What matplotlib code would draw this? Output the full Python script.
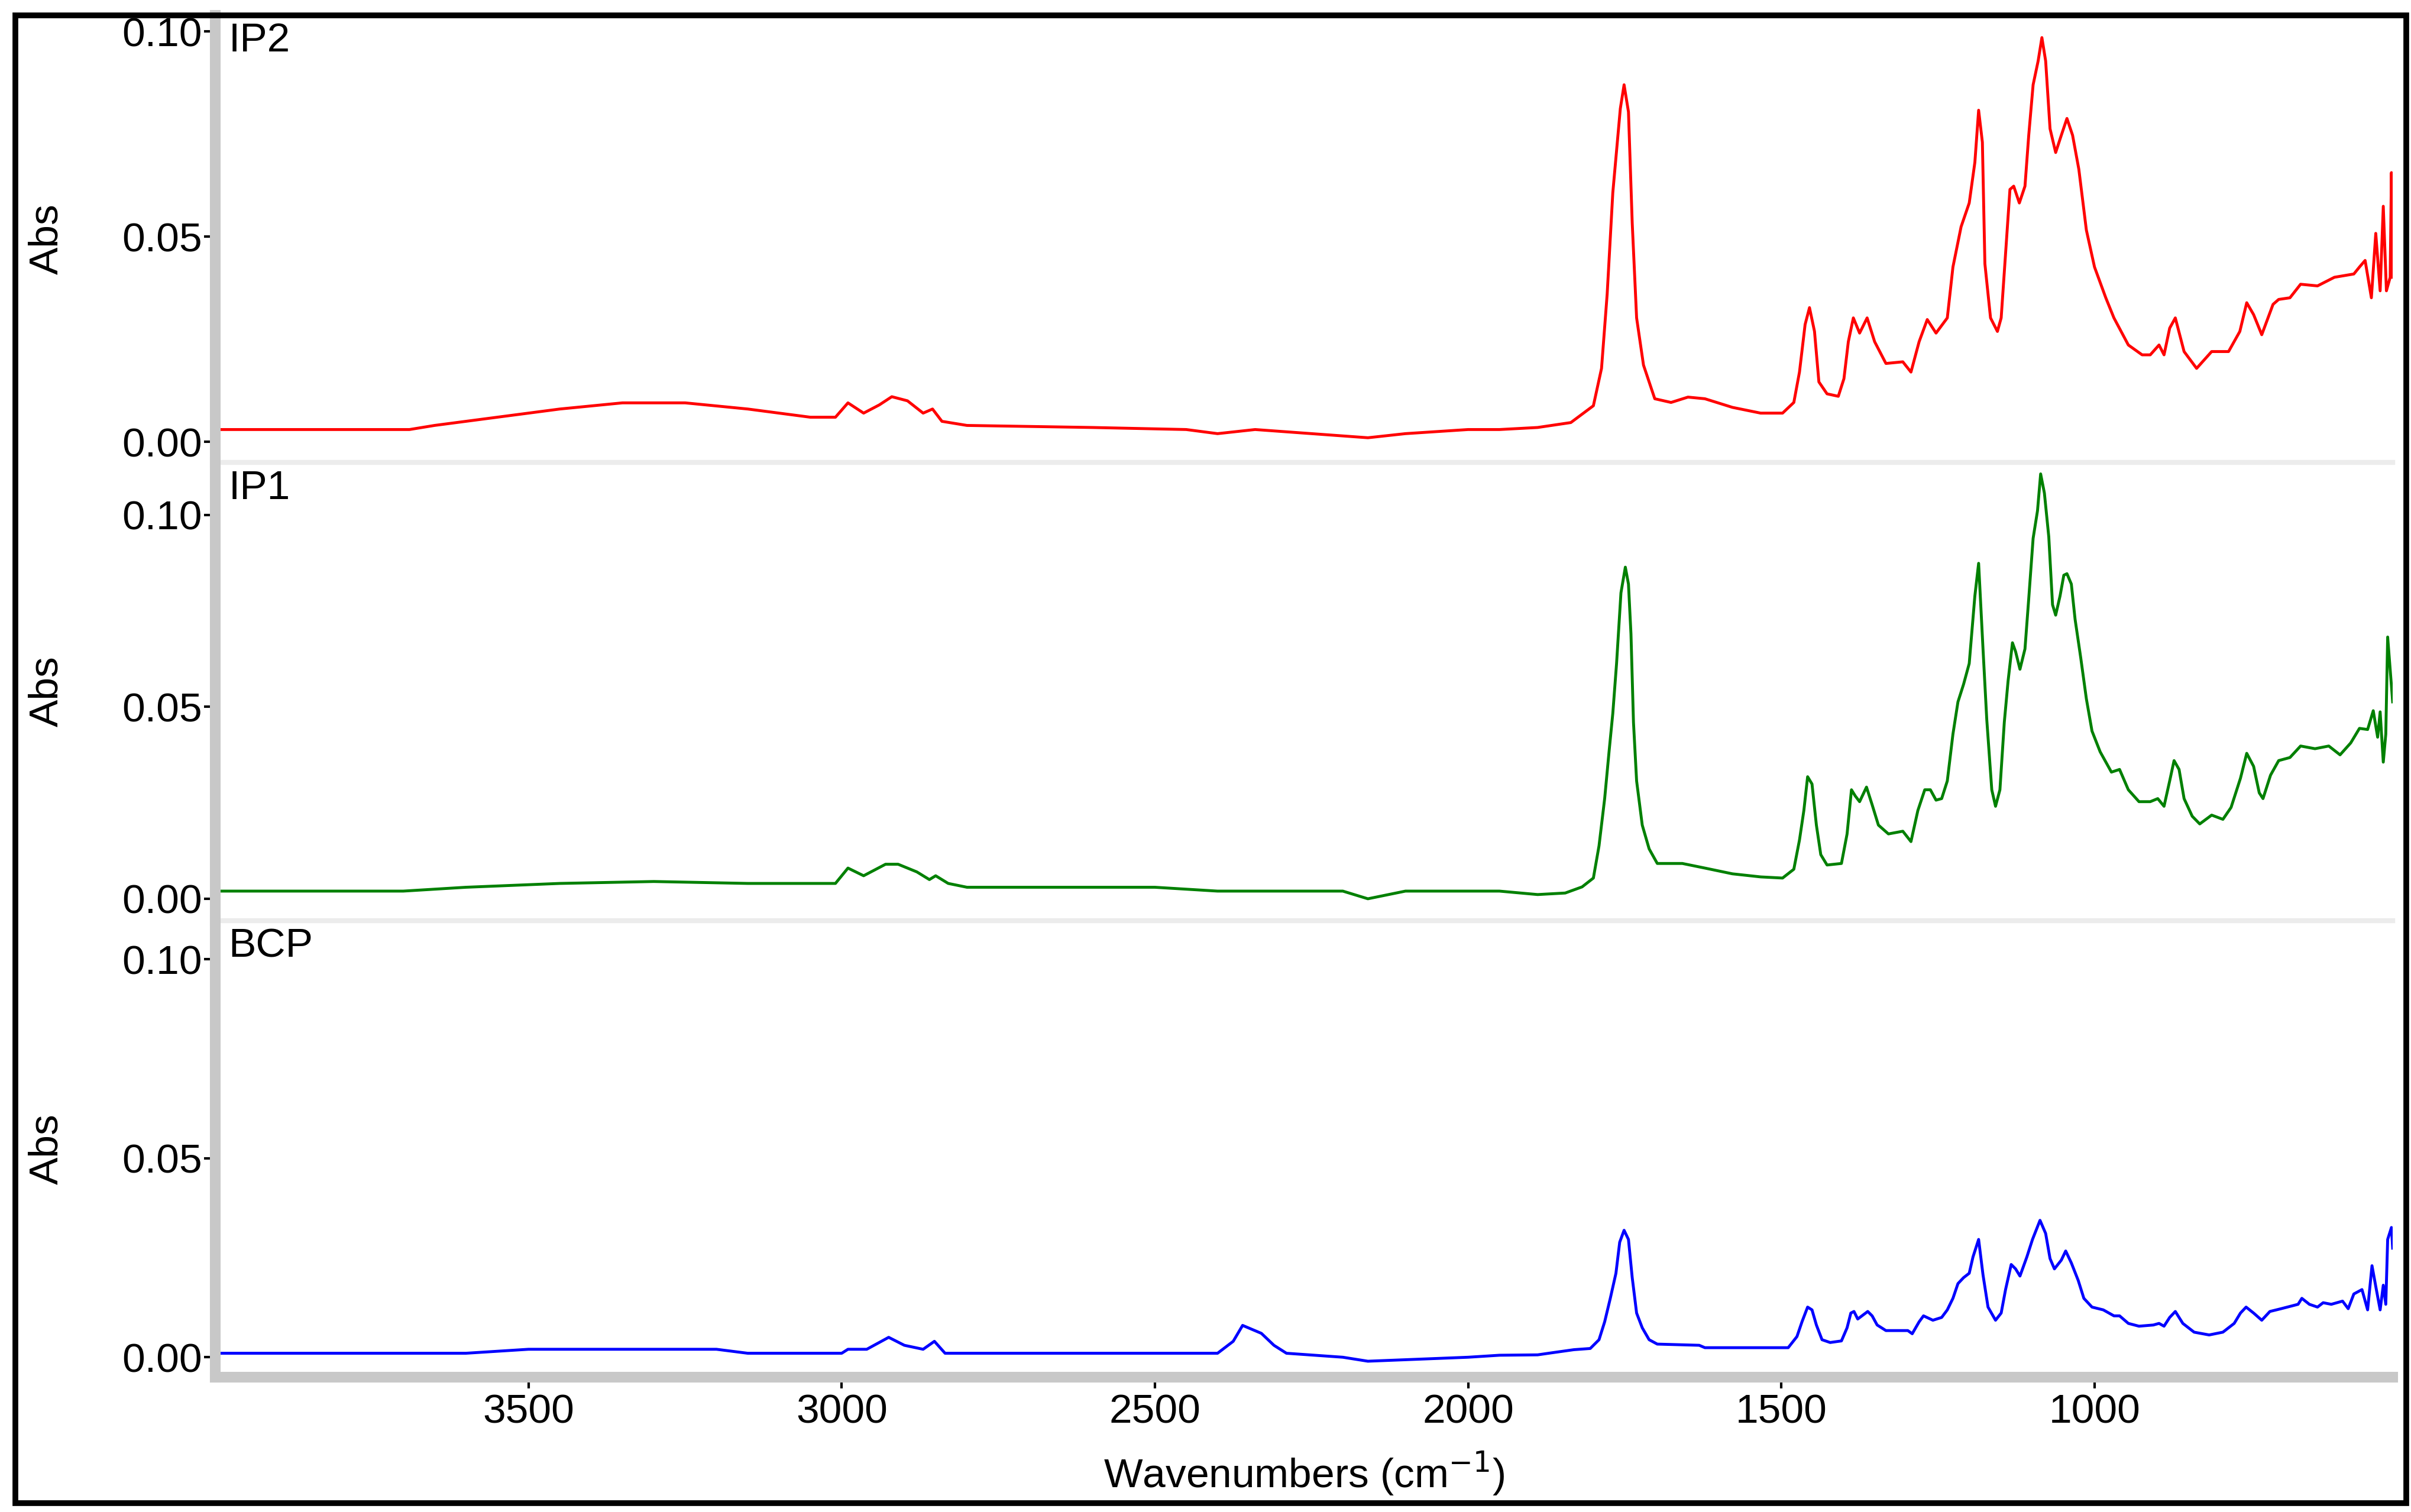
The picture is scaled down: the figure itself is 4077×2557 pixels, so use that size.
import matplotlib
matplotlib.use("Agg")
import matplotlib.pyplot as plt
from matplotlib.patches import Rectangle

plt.rcParams['font.family'] = ['Liberation Sans', 'DejaVu Sans']

# --- Spectra (wavenumber, absorbance) ---
ip2_wn = [4000, 3690, 3650, 3550, 3450, 3350, 3250, 3150, 3050, 3010, 2990, 2965, 2940, 2920, 2895, 2870, 2855, 2840,
          2800, 2600, 2450, 2400, 2340, 2250, 2160, 2100, 2000, 1950,
          1889, 1836, 1800, 1787, 1778, 1769, 1757, 1751, 1744, 1738, 1731, 1720, 1702, 1676, 1649, 1622, 1578, 1533,
          1498, 1480, 1471, 1462, 1455, 1447, 1440, 1427, 1409, 1400, 1393, 1385, 1375, 1363, 1351, 1333, 1306, 1293,
          1280, 1267, 1253, 1235, 1226, 1213, 1200, 1191, 1185, 1179, 1175, 1166, 1155, 1149, 1142, 1135, 1129, 1120,
          1111, 1105, 1098, 1090, 1084, 1078, 1071, 1062, 1053, 1044, 1035, 1025, 1013, 1000, 982, 969, 946, 924, 911,
          897, 889, 880, 871, 857, 837, 813, 786, 768, 757, 746, 733, 715, 706, 688, 671, 644, 617, 586, 577, 568, 558,
          551, 544, 539, 534, 528, 526, 524]
ip2_abs = [0.003, 0.003, 0.004, 0.006, 0.008, 0.0095, 0.0095, 0.008, 0.006, 0.006, 0.0095, 0.007, 0.009, 0.011, 0.010, 0.007, 0.008, 0.005,
           0.004, 0.0035, 0.003, 0.002, 0.003, 0.002, 0.001, 0.002, 0.003, 0.003,
           0.0035, 0.0047, 0.0088, 0.0179, 0.036, 0.0607, 0.0812, 0.087, 0.0804, 0.0533, 0.0302, 0.0187, 0.0105, 0.0096, 0.0109, 0.0105, 0.0084, 0.007,
           0.007, 0.0096, 0.017, 0.0286, 0.0327, 0.0269, 0.0146, 0.0117, 0.0111, 0.0154, 0.0244, 0.0302, 0.0265, 0.0302, 0.0244, 0.0191, 0.0195, 0.017,
           0.0244, 0.0298, 0.0265, 0.0302, 0.0426, 0.0524, 0.0582, 0.0681, 0.0808, 0.073, 0.0434, 0.0302, 0.0269, 0.0302, 0.0458, 0.0615, 0.0623, 0.0582,
           0.0623, 0.0747, 0.087, 0.0928, 0.0985, 0.0928, 0.0763, 0.0705, 0.0747, 0.0788, 0.0747, 0.0664, 0.0516, 0.0426, 0.0351, 0.0302, 0.0236, 0.0212, 0.0212,
           0.0236, 0.0212, 0.0277, 0.0302, 0.022, 0.0179, 0.022, 0.022, 0.0269, 0.0339, 0.031, 0.0261, 0.0335, 0.0347, 0.0351, 0.0384, 0.038, 0.0401, 0.0409, 0.0426, 0.0442, 0.0351,
           0.0508, 0.0368, 0.0574, 0.0368, 0.0401, 0.0656, 0.0401]

ip1_wn = [4000, 3700, 3600, 3450, 3300, 3150, 3010, 2990, 2965, 2930, 2910, 2880, 2860, 2850, 2830, 2800, 2500, 2400,
          2300, 2200, 2160, 2100, 2000, 1950,
          1889, 1845, 1818, 1800, 1791, 1782, 1775, 1769, 1763, 1756, 1749, 1744, 1740, 1736, 1731, 1722, 1711, 1698,
          1658, 1622, 1578, 1533, 1498, 1480, 1471, 1464, 1458, 1451, 1444, 1437, 1427, 1404, 1395, 1388, 1382, 1375,
          1364, 1355, 1345, 1329, 1306, 1293, 1282, 1271, 1262, 1253, 1244, 1235, 1226, 1218, 1209, 1200, 1191, 1185,
          1178, 1172, 1164, 1158, 1151, 1144, 1138, 1131, 1126, 1119, 1111, 1105, 1098, 1091, 1086, 1080, 1073, 1067,
          1062, 1055, 1049, 1044, 1037, 1031, 1022, 1013, 1004, 991, 973, 960, 946, 929, 911, 899, 889, 880, 873, 865,
          857, 844, 832, 813, 795, 782, 767, 757, 746, 737, 731, 719, 706, 688, 671, 648, 626, 608, 591, 577, 564, 555,
          548, 544, 539, 535, 532, 524]
ip1_abs = [0.002, 0.002, 0.003, 0.004, 0.0045, 0.004, 0.004, 0.008, 0.006, 0.009, 0.009, 0.007, 0.005, 0.006, 0.004, 0.003, 0.003, 0.002,
           0.002, 0.002, 0.000, 0.002, 0.002, 0.002,
           0.0011, 0.0015, 0.0031, 0.0054, 0.0138, 0.0261, 0.0383, 0.0483, 0.0613, 0.0797, 0.0864, 0.082, 0.069, 0.046, 0.0307, 0.0192, 0.013, 0.0092,
           0.0092, 0.008, 0.0065, 0.0057, 0.0054, 0.0077, 0.0153, 0.023, 0.0318, 0.0299, 0.0192, 0.0115, 0.0088, 0.0092, 0.0169, 0.0284, 0.0268, 0.0253,
           0.0291, 0.0245, 0.0192, 0.0169, 0.0176, 0.0149, 0.023, 0.0284, 0.0284, 0.0257, 0.0261, 0.0307, 0.0429, 0.0513, 0.0559, 0.0613, 0.0789, 0.0874,
           0.0651, 0.0467, 0.0284, 0.0241, 0.0284, 0.046, 0.0567, 0.0667, 0.0644, 0.0598, 0.0651, 0.0782, 0.0939, 0.1011, 0.1107, 0.1057, 0.0943, 0.0766,
           0.0739, 0.0789, 0.0843, 0.0847, 0.082, 0.0728, 0.0628, 0.0521, 0.0437, 0.0383, 0.033, 0.0337, 0.0284, 0.0253, 0.0253, 0.0261, 0.0241, 0.0307, 0.036, 0.0337,
           0.0261, 0.0215, 0.0195, 0.0218, 0.0207, 0.0238, 0.0314, 0.0379, 0.0345, 0.0276, 0.0261, 0.0322, 0.036, 0.0368, 0.0398, 0.0391, 0.0398, 0.0375, 0.0406, 0.0444, 0.0441, 0.049,
           0.0421, 0.0487, 0.0356, 0.0429, 0.0682, 0.0513]

bcp_wn = [4000, 3600, 3500, 3200, 3150, 3000, 2990, 2960, 2925, 2900, 2870, 2852, 2835, 2400, 2375, 2360, 2345, 2330,
          2310, 2290, 2200, 2160, 2000, 1950,
          1889, 1867, 1831, 1805, 1791, 1782, 1773, 1764, 1758, 1751, 1744, 1738, 1731, 1722, 1711, 1698, 1631, 1622,
          1489, 1475, 1467, 1458, 1451, 1444, 1435, 1422, 1404, 1395, 1389, 1384, 1378, 1362, 1355, 1347, 1333, 1298,
          1291, 1280, 1273, 1258, 1244, 1235, 1226, 1218, 1209, 1200, 1194, 1185, 1178, 1170, 1158, 1149, 1142, 1133,
          1126, 1119, 1108, 1099, 1087, 1078, 1071, 1064, 1053, 1046, 1037, 1026, 1017, 1004, 986, 969, 960, 946, 929,
          906, 897, 889, 880, 871, 859, 841, 817, 795, 777, 767, 758, 746, 733, 720, 702, 675, 669, 657, 644, 635, 622,
          604, 595, 586, 573, 564, 557, 551, 544, 539, 535, 532, 526, 524]
bcp_abs = [0.001, 0.001, 0.002, 0.002, 0.001, 0.001, 0.002, 0.002, 0.005, 0.003, 0.002, 0.004, 0.001, 0.001, 0.004, 0.008, 0.007, 0.006,
           0.003, 0.001, 0.000, -0.001, 0.000, 0.0005,
           0.0006, 0.0011, 0.0019, 0.0022, 0.0044, 0.0089, 0.0148, 0.0211, 0.0289, 0.0319, 0.0296, 0.02, 0.0111, 0.0074, 0.0044, 0.0033, 0.003, 0.0024,
           0.0024, 0.0052, 0.0089, 0.0126, 0.0119, 0.0081, 0.0044, 0.0037, 0.0041, 0.0074, 0.0111, 0.0115, 0.0096, 0.0115, 0.0104, 0.0081, 0.0067, 0.0067,
           0.0059, 0.0089, 0.0104, 0.0093, 0.01, 0.0119, 0.0148, 0.0185, 0.02, 0.0211, 0.0252, 0.0296, 0.0207, 0.0126, 0.0093, 0.0111, 0.017, 0.0233,
           0.0222, 0.0204, 0.0252, 0.0296, 0.0344, 0.0311, 0.0248, 0.0222, 0.0244, 0.0267, 0.0237, 0.0193, 0.0148, 0.0126, 0.0119, 0.0104, 0.0104, 0.0085, 0.0078,
           0.0081, 0.0085, 0.0078, 0.01, 0.0115, 0.0085, 0.0063, 0.0056, 0.0063, 0.0085, 0.0111, 0.0126, 0.0111, 0.0093, 0.0115, 0.0122, 0.0133, 0.0148, 0.0133, 0.0126, 0.0137, 0.0133,
           0.0141, 0.0122, 0.0159, 0.017, 0.0119, 0.023, 0.0178, 0.0119, 0.0181, 0.0133, 0.0296, 0.0326, 0.0274]

names = ["IP2", "IP1", "BCP"]
colors = ["#ff0000", "#008000", "#0000ff"]
spectra = [(ip2_wn, ip2_abs), (ip1_wn, ip1_abs), (bcp_wn, bcp_abs)]
ylims = [(-0.005, 0.1039), (-0.0057, 0.1137), (-0.005, 0.1097)]
x_ticks = [3500, 3000, 2500, 2000, 1500, 1000]

fig = plt.figure(figsize=(40.77, 25.57), dpi=100)
# outer frame
fig.patches.append(Rectangle((0.0064, 0.006), 0.9916, 0.984, transform=fig.transFigure,
                             fill=False, edgecolor="black", linewidth=7))

left, width = 0.0893, 0.9031
bounds = [(0.6942, 0.2956), (0.3911, 0.3031), (0.0892, 0.3019)]
fs = 50
for i, (name, col, (wn, ab), yl, (b, h)) in enumerate(zip(names, colors, spectra, ylims, bounds)):
    ax = fig.add_axes([left, b, width, h])
    ax.plot(wn, ab, color=col, linewidth=3.5)
    ax.set_xlim(4000, 524)
    ax.set_ylim(*yl)
    for s in ["top", "right"]:
        ax.spines[s].set_visible(False)
    ax.spines["left"].set_color("#c8c8c8")
    ax.spines["left"].set_linewidth(13)
    ax.set_yticks([0.0, 0.05, 0.10])
    ax.set_yticklabels(["0.00", "0.05", "0.10"])
    ax.set_yticks([0.01, 0.02, 0.03, 0.04, 0.06, 0.07, 0.08, 0.09], minor=True)
    ax.tick_params(axis="y", which="major", length=14, width=3, labelsize=fs, pad=2)
    ax.tick_params(axis="y", which="minor", length=6, width=3)
    ax.set_ylabel("Abs", fontsize=fs, labelpad=68)
    ax.text(0.006, 0.985, name, transform=ax.transAxes, fontsize=fs, va="top", ha="left")
    if i < 2:
        ax.spines["bottom"].set_color("#ececec")
        ax.spines["bottom"].set_linewidth(6)
        ax.set_xticks([])
    else:
        ax.spines["bottom"].set_color("#c8c8c8")
        ax.spines["bottom"].set_linewidth(13)
        ax.set_xticks(x_ticks)
        ax.set_xticks(range(3900, 599, -100), minor=True)
        ax.tick_params(axis="x", which="major", length=14, width=3, labelsize=fs, pad=6)
        ax.tick_params(axis="x", which="minor", length=6, width=3)
        ax.set_xlabel("Wavenumbers (cm$^{-1}$)", fontsize=fs, labelpad=22)
    ax.set_facecolor("none")

fig.savefig("out.png", dpi=100)
